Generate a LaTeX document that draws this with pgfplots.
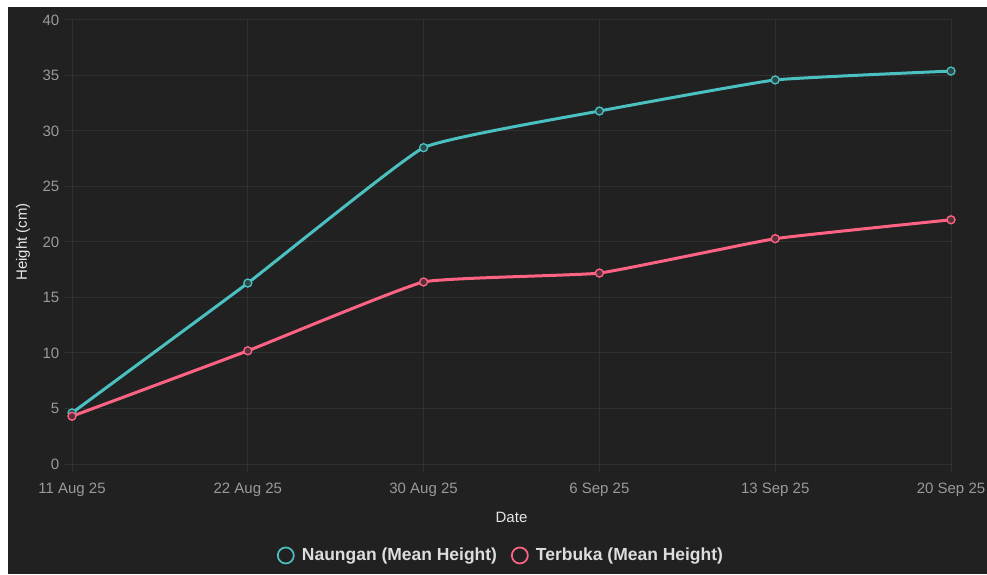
\documentclass[border=0pt]{standalone}
\usepackage{pgfplots}
\pgfplotsset{compat=1.18}
\usepackage{fontspec}
\setmainfont{Liberation Sans}
\definecolor{bg}{HTML}{212121}
\definecolor{gridc}{HTML}{303030}
\definecolor{teal1}{HTML}{4BC0C0}
\definecolor{pink1}{HTML}{FF6384}
\definecolor{tickc}{HTML}{9A9A9A}
\definecolor{titlec}{HTML}{E6E6E6}
\definecolor{legc}{HTML}{DDDDDD}
\begin{document}
\begin{tikzpicture}
\path[fill=white] (0,0) rectangle (740.25pt,430.5pt);
\path[fill=bg] (6pt,0) rectangle (740.25pt,425.25pt);
\begin{axis}[
  at={(54pt,82.5pt)}, anchor=south west,
  scale only axis, width=659.25pt, height=333pt,
  xmin=0, xmax=5, ymin=0, ymax=40,
  xtick={0,1,2,3,4,5},
  xticklabels={11 Aug 25,22 Aug 25,30 Aug 25,6 Sep 25,13 Sep 25,20 Sep 25},
  ytick={0,5,...,40},
  /pgf/number format/assume math mode=true,
  grid=major,
  major grid style={gridc, line width=0.75pt},
  axis line style={gridc, line width=0.75pt},
  tick style={gridc, line width=0.75pt},
  tick align=outside, major tick length=6pt,
  xtick pos=bottom, ytick pos=left,
  ticklabel style={font=\fontsize{11.25pt}{13pt}\selectfont, text=tickc},
  xticklabel style={yshift=-5pt},
  xlabel={Date}, ylabel={Height (cm)},
  label style={font=\fontsize{11.25pt}{13pt}\selectfont, text=titlec},
  xlabel style={at={(axis description cs:0.5,-0.1200)}, anchor=center},
  ylabel style={at={(axis description cs:-0.0557,0.5)}, anchor=center},
  legend columns=2,
  legend style={at={(axis description cs:0.488,-0.2060)}, anchor=center,
    draw=none, fill=none, text=legc,
    font=\bfseries\fontsize{13.1pt}{15pt}\selectfont,
    /tikz/every even column/.append style={column sep=8pt}},
  legend image code/.code={\draw[#1,solid,line width=1.3pt,mark=none,fill=none] (6pt,0pt) circle (6pt);
    \path (0pt,0pt) (15pt,0pt);},
]
\addplot[teal1, line width=2.25pt, smooth, tension=0.2, mark=*, mark size=3pt,
  mark options={solid, line width=1pt, draw=teal1, fill=teal1!25!bg}]
  coordinates {(0,4.6) (1,16.3) (2,28.5) (3,31.8) (4,34.6) (5,35.4)};
\addlegendentry{Naungan (Mean Height)}
\addplot[pink1, line width=2.25pt, smooth, tension=0.2, mark=*, mark size=3pt,
  mark options={solid, line width=1pt, draw=pink1, fill=pink1!25!bg}]
  coordinates {(0,4.3) (1,10.2) (2,16.4) (3,17.2) (4,20.3) (5,22.0)};
\addlegendentry{Terbuka (Mean Height)}
\end{axis}
\pgfresetboundingbox
\path (0,0) rectangle (740.25pt,430.5pt);
\end{tikzpicture}
\end{document}
